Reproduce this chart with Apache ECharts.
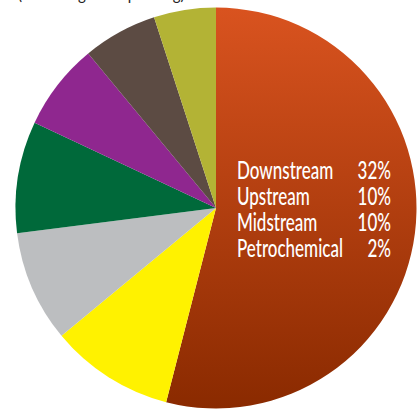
<!DOCTYPE html>
<html>
<head>
<meta charset="utf-8">
<script src="https://cdn.jsdelivr.net/npm/echarts@6/dist/echarts.min.js"></script>
<style>
html,body{margin:0;padding:0;background:#fff;}
#chart{width:419px;height:409px;}
</style>
</head>
<body>
<div id="chart"></div>
<script>
// Slices, clockwise from 12 o'clock (share of total, %)
const categories = ['Oil & Gas', 'Segment 2', 'Segment 3', 'Segment 4', 'Segment 5', 'Segment 6', 'Segment 7'];
const values = [54, 10, 9, 9, 7, 6, 5];
const sliceColors = ['#d2501f', '#fff200', '#bcbec0', '#00693a', '#8f278f', '#5c4b43', '#b3b335'];
// Breakdown of the large slice
const subLabels = ['Downstream', 'Upstream', 'Midstream', 'Petrochemical'];
const subValues = [32, 10, 10, 2];
const titleText = '(share of global spending)';

const chart = echarts.init(document.getElementById('chart'), null, {renderer: 'svg'});

const data = categories.map((c, i) => ({
  name: c,
  value: values[i],
  itemStyle: {
    color: i === 0
      ? new echarts.graphic.LinearGradient(0, 0, 0, 1, [
          {offset: 0, color: '#d9531f'},
          {offset: 1, color: '#8a2a00'}
        ])
      : sliceColors[i]
  }
}));

const font = 'Lato';
const fs = 25;
const sx = 0.68;
const rowY = [170, 196, 222, 248];
const graphics = [];
subLabels.forEach((t, i) => {
  graphics.push({
    type: 'text', x: 237, y: rowY[i], scaleX: sx, z: 100,
    style: {text: t, fill: '#fff', font: '500 ' + fs + 'px ' + font, textAlign: 'left', textVerticalAlign: 'middle'}
  });
  graphics.push({
    type: 'text', x: 391, y: rowY[i], scaleX: sx, z: 100,
    style: {text: subValues[i] + '%', fill: '#fff', font: '500 ' + fs + 'px ' + font, textAlign: 'right', textVerticalAlign: 'middle'}
  });
});
graphics.push({
  type: 'text', x: 18, y: -14, z: 100,
  style: {text: titleText, fill: '#222', font: '15px ' + font, textAlign: 'left', textVerticalAlign: 'top'}
});

chart.setOption({
  animation: false,
  series: [{
    type: 'pie',
    center: [216, 208],
    radius: 200.5,
    startAngle: 90,
    clockwise: true,
    label: {show: false},
    labelLine: {show: false},
    emphasis: {disabled: true},
    itemStyle: {borderWidth: 0},
    data: data
  }],
  graphic: graphics
});
</script>
</body>
</html>
